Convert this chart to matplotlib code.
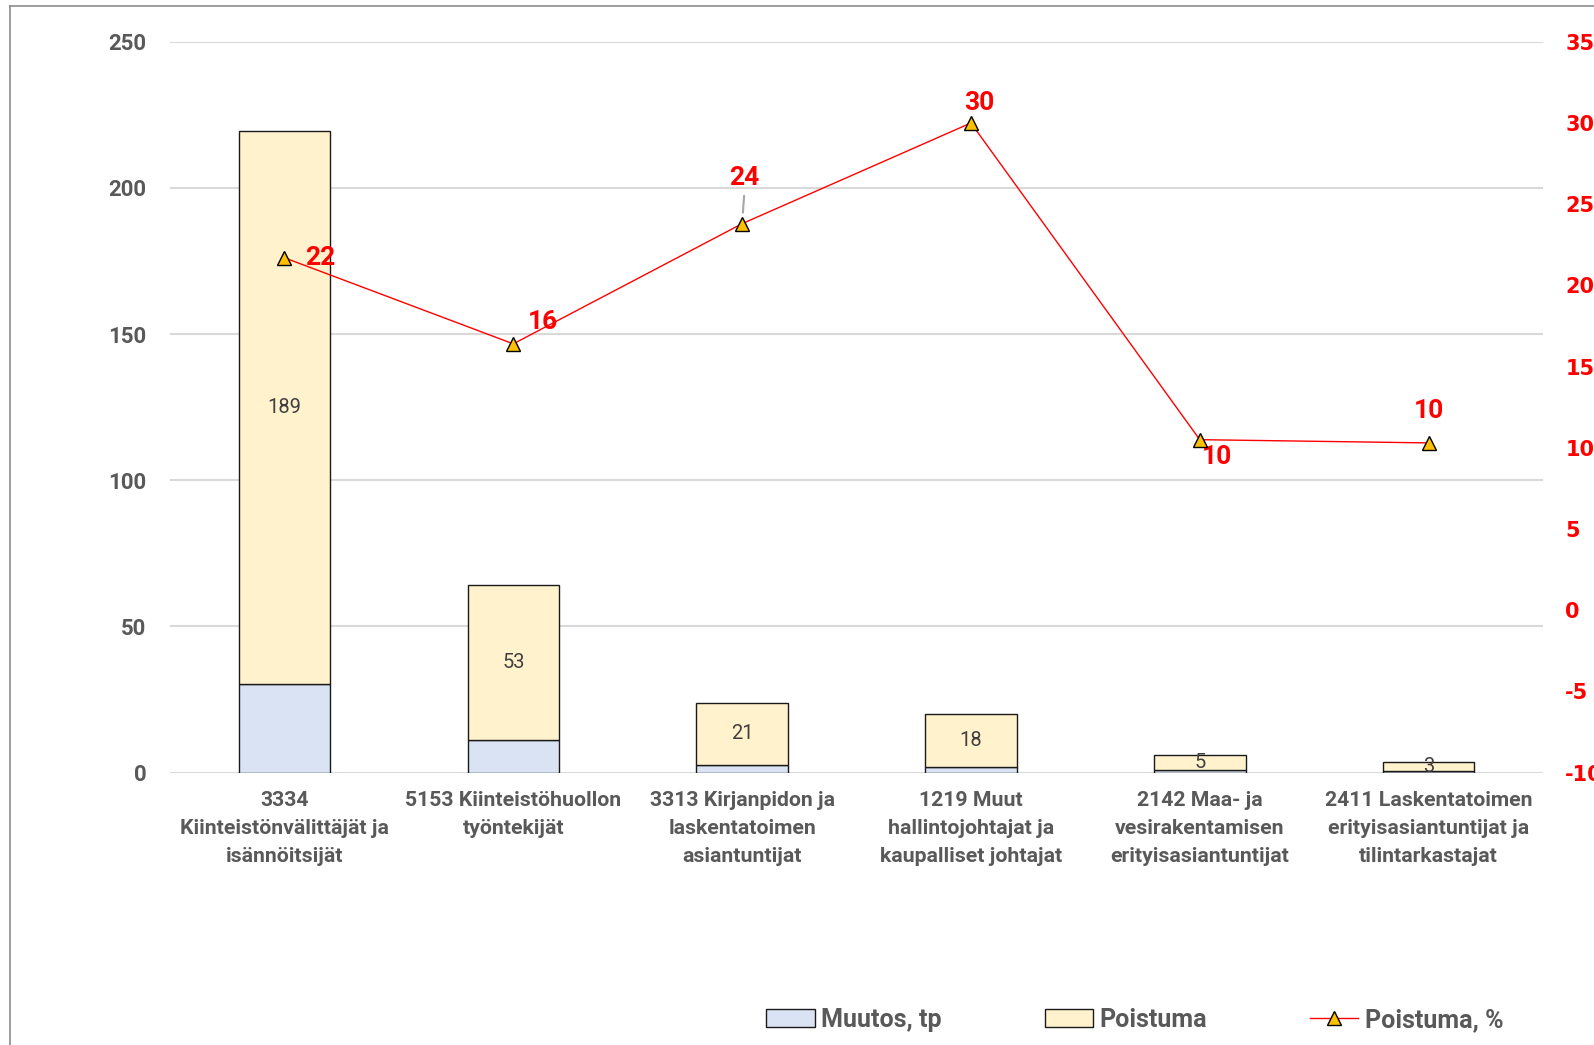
import matplotlib

matplotlib.use("Agg")
import matplotlib.pyplot as plt
from matplotlib.lines import Line2D
from matplotlib.patches import Patch

# Data
categories = [
    "3334\nKiinteistönvälittäjät ja\nisännöitsijät",
    "5153 Kiinteistöhuollon\ntyöntekijät",
    "3313 Kirjanpidon ja\nlaskentatoimen\nasiantuntijat",
    "1219 Muut\nhallintojohtajat ja\nkaupalliset johtajat",
    "2142 Maa- ja\nvesirakentamisen\nerityisasiantuntijat",
    "2411 Laskentatoimen\nerityisasiantuntijat ja\ntilintarkastajat",
]
muutos = [30.4, 11.1, 2.7, 2.0, 1.0, 0.6]
poistuma = [189, 53, 21, 18, 5, 3]
poistuma_pct = [21.7, 16.4, 23.8, 30.0, 10.5, 10.3]
pct_labels = ["22", "16", "24", "30", "10", "10"]
# label offsets in pixels (dx, dy) relative to each marker
pct_offsets = [(36, 0), (30, 22), (2, 46), (8, 20), (17, -17), (0, 32)]

GRAY = "#595959"
RED = "#FF0000"
FONT = "Roboto"

fig = plt.figure(figsize=(15.94, 10.45), dpi=100)
ax = fig.add_axes([0.1067, 0.2607, 0.8613, 0.6993])
ax2 = ax.twinx()

x = list(range(len(categories)))
b1 = ax.bar(x, muutos, width=0.4, color="#DAE3F3", edgecolor="#1a1a1a", linewidth=1.0, zorder=3)
b2 = ax.bar(x, poistuma, width=0.4, bottom=muutos, color="#FFF2CC", edgecolor="#1a1a1a",
            linewidth=1.0, zorder=3)
ax.bar_label(b2, labels=[str(v) for v in poistuma], label_type="center",
             fontsize=14.5, color="#404040", family=FONT)

ax.set_xlim(-0.5, len(categories) - 0.5)
ax.set_ylim(0, 250)
ax.set_yticks(range(0, 251, 50))
ax.grid(axis="y", color="#D9D9D9", linewidth=1.5, zorder=0)
ax.set_axisbelow(True)
for sp in ax.spines.values():
    sp.set_visible(False)
ax.tick_params(axis="both", length=0)
ax.tick_params(axis="y", pad=17, labelsize=16, labelcolor=GRAY)
ax.set_yticklabels([str(v) for v in range(0, 251, 50)], fontweight="bold", family=FONT)
ax.set_xticks(x)
ax.set_xticklabels(categories, fontsize=15.3, fontweight="bold", color=GRAY, family=FONT,
                   linespacing=1.6)
ax.tick_params(axis="x", pad=13)

ax2.plot(x, poistuma_pct, color=RED, linewidth=1.0, marker="^", markersize=10,
         markerfacecolor="#FFC000", markeredgecolor="black", markeredgewidth=1.0, zorder=5)
ax2.set_ylim(-10, 35)
ax2.set_yticks(range(-10, 36, 5))
ax2.set_yticklabels([str(v) for v in range(-10, 36, 5)], fontweight="bold", family="DejaVu Sans")
ax2.tick_params(axis="y", length=0, pad=16, labelsize=15, labelcolor=RED)
for sp in ax2.spines.values():
    sp.set_visible(False)

for i, (val, lab, off) in enumerate(zip(poistuma_pct, pct_labels, pct_offsets)):
    ax2.annotate(lab, (i, val), xytext=off, textcoords="offset pixels", ha="center", va="center",
                 fontsize=19, fontweight="bold", color=RED, family=FONT)
# leader line for the "24" label
ax2.annotate("", (2, poistuma_pct[2]), xytext=(2, 28), textcoords="offset pixels",
             arrowprops=dict(arrowstyle="-", color="#A6A6A6", linewidth=1.5, shrinkA=0, shrinkB=8))

handles = [
    Patch(facecolor="#DAE3F3", edgecolor="#1a1a1a", linewidth=1.0),
    Patch(facecolor="#FFF2CC", edgecolor="#1a1a1a", linewidth=1.0),
    Line2D([0], [0], color=RED, linewidth=1.0, marker="^", markersize=10,
           markerfacecolor="#FFC000", markeredgecolor="black"),
]
leg = fig.legend(handles, ["Muutos, tp", "Poistuma", "Poistuma, %"], loc="center",
                 bbox_to_anchor=(0.712, 0.024), ncol=3, frameon=False, handlelength=1.95,
                 handleheight=0.7, handletextpad=0.25, columnspacing=4.1,
                 prop={"family": FONT, "weight": "bold", "size": 18})
for t in leg.get_texts():
    t.set_color(GRAY)

# chart area border (left and top edges visible)
fig.add_artist(Line2D([9.5 / 1594, 9.5 / 1594], [0, 1 - 6 / 1045], color="#8c8c8c", linewidth=1.2))
fig.add_artist(Line2D([9.5 / 1594, 1], [1 - 6 / 1045, 1 - 6 / 1045], color="#8c8c8c", linewidth=1.2))

fig.savefig("out.png", dpi=100)
